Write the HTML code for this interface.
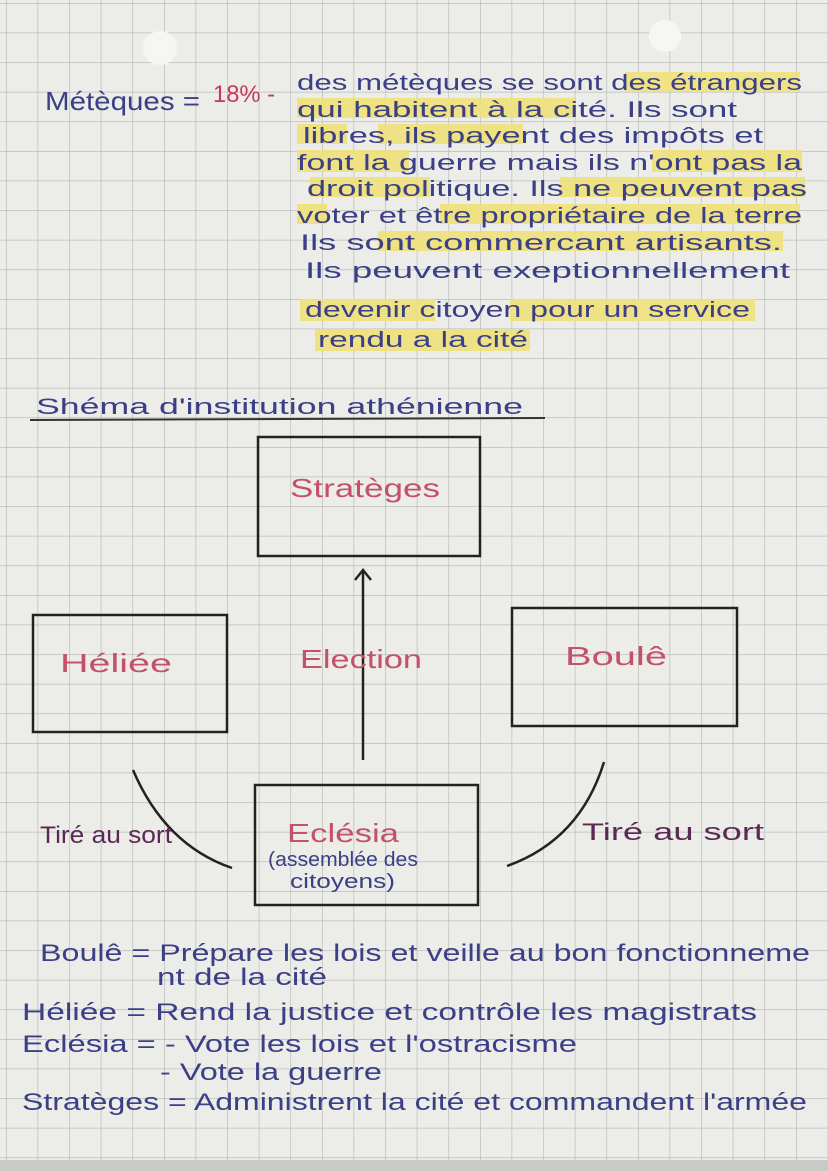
<!DOCTYPE html>
<html><head><meta charset="utf-8"><style>
html,body{margin:0;padding:0;background:#e9e9e6;}
svg{display:block}
text{font-family:"Liberation Sans",sans-serif;}
</style></head><body>
<svg width="828" height="1171" viewBox="0 0 828 1171" xmlns="http://www.w3.org/2000/svg">
<defs>
<pattern id="g" x="6" y="3" width="31.6" height="29.6" patternUnits="userSpaceOnUse">
<path d="M0 0V29.6M0 0H31.6" stroke="#b3b3b0" stroke-width="1.2" fill="none"/>
</pattern>
</defs>
<rect width="828" height="1171" fill="#ecece9"/>
<rect width="828" height="1171" fill="url(#g)"/>
<rect x="0" y="1160" width="828" height="11" fill="#c9c9c5"/>
<circle cx="160" cy="48" r="17" fill="#f6f6f4"/>
<circle cx="665" cy="36" r="16" fill="#f6f6f4"/>

<g fill="#f0e27a" opacity="0.9">
<rect x="625" y="72" width="175" height="20"/>
<rect x="297" y="98" width="278" height="20"/>
<rect x="297" y="124" width="50" height="20"/>
<rect x="378" y="124" width="145" height="20"/>
<rect x="297" y="150" width="112" height="22"/>
<rect x="652" y="150" width="150" height="22"/>
<rect x="310" y="177" width="120" height="20"/>
<rect x="560" y="177" width="245" height="20"/>
<rect x="297" y="204" width="30" height="20"/>
<rect x="440" y="204" width="360" height="20"/>
<rect x="378" y="231" width="405" height="20"/>
<rect x="300" y="299" width="135" height="22"/>
<rect x="510" y="299" width="245" height="22"/>
<rect x="315" y="329" width="215" height="22"/>
</g>

<g fill="#3b3f86" font-size="22">
<text x="45" y="110" font-size="26" textLength="155" lengthAdjust="spacingAndGlyphs">Métèques =</text>
<text x="213" y="102" fill="#c43a5a" font-size="24" textLength="62" lengthAdjust="spacingAndGlyphs">18% -</text>
<text x="297" y="90" textLength="505" lengthAdjust="spacingAndGlyphs">des métèques se sont des étrangers</text>
<text x="297" y="117" textLength="440" lengthAdjust="spacingAndGlyphs">qui habitent à la cité. Ils sont</text>
<text x="303" y="143" textLength="460" lengthAdjust="spacingAndGlyphs">libres, ils payent des impôts et</text>
<text x="297" y="170" textLength="505" lengthAdjust="spacingAndGlyphs">font la guerre mais ils n'ont pas la</text>
<text x="307" y="196" textLength="500" lengthAdjust="spacingAndGlyphs">droit politique. Ils ne peuvent pas</text>
<text x="297" y="223" textLength="505" lengthAdjust="spacingAndGlyphs">voter et être propriétaire de la terre</text>
<text x="300" y="250" textLength="482" lengthAdjust="spacingAndGlyphs">Ils sont commercant artisants.</text>
<text x="305" y="278" textLength="485" lengthAdjust="spacingAndGlyphs">Ils peuvent exeptionnellement</text>
<text x="305" y="317" textLength="445" lengthAdjust="spacingAndGlyphs">devenir citoyen pour un service</text>
<text x="318" y="347" textLength="210" lengthAdjust="spacingAndGlyphs">rendu a la cité</text>
<text x="36" y="414" textLength="487" lengthAdjust="spacingAndGlyphs">Shéma d'institution athénienne</text>
</g>
<line x1="30" y1="420" x2="545" y2="418" stroke="#333" stroke-width="2"/>

<g fill="none" stroke="#222" stroke-width="2.5">
<rect x="258" y="437" width="222" height="119"/>
<rect x="33" y="615" width="194" height="117"/>
<rect x="512" y="608" width="225" height="118"/>
<rect x="255" y="785" width="223" height="120"/>
<line x1="363" y1="760" x2="363" y2="572"/>
<path d="M355 580 L363 570 L371 580"/>
<path d="M133 770 Q165 845 232 868"/>
<path d="M604 762 Q580 840 507 866"/>
</g>

<g fill="#c4506a" font-size="26">
<text x="290" y="497" textLength="150" lengthAdjust="spacingAndGlyphs">Stratèges</text>
<text x="60" y="672" textLength="112" lengthAdjust="spacingAndGlyphs">Héliée</text>
<text x="300" y="668" textLength="122" lengthAdjust="spacingAndGlyphs">Election</text>
<text x="565" y="665" textLength="102" lengthAdjust="spacingAndGlyphs">Boulê</text>
<text x="287" y="842" textLength="112" lengthAdjust="spacingAndGlyphs">Eclésia</text>
</g>
<g fill="#3b3f86" font-size="20">
<text x="268" y="866" textLength="150" lengthAdjust="spacingAndGlyphs">(assemblée des</text>
<text x="290" y="888" textLength="105" lengthAdjust="spacingAndGlyphs">citoyens)</text>
</g>
<g fill="#5a2a55" font-size="24">
<text x="40" y="843" textLength="132" lengthAdjust="spacingAndGlyphs">Tiré au sort</text>
<text x="582" y="840" textLength="182" lengthAdjust="spacingAndGlyphs">Tiré au sort</text>
</g>

<g fill="#3b3f86" font-size="24">
<text x="40" y="961" textLength="770" lengthAdjust="spacingAndGlyphs">Boulê = Prépare les lois et veille au bon fonctionneme</text>
<text x="157" y="985" textLength="170" lengthAdjust="spacingAndGlyphs">nt de la cité</text>
<text x="22" y="1020" textLength="735" lengthAdjust="spacingAndGlyphs">Héliée = Rend la justice et contrôle les magistrats</text>
<text x="22" y="1052" textLength="555" lengthAdjust="spacingAndGlyphs">Eclésia = - Vote les lois et l'ostracisme</text>
<text x="160" y="1080" textLength="222" lengthAdjust="spacingAndGlyphs">- Vote la guerre</text>
<text x="22" y="1110" textLength="785" lengthAdjust="spacingAndGlyphs">Stratèges = Administrent la cité et commandent l'armée</text>
</g>
</svg>
</body></html>
